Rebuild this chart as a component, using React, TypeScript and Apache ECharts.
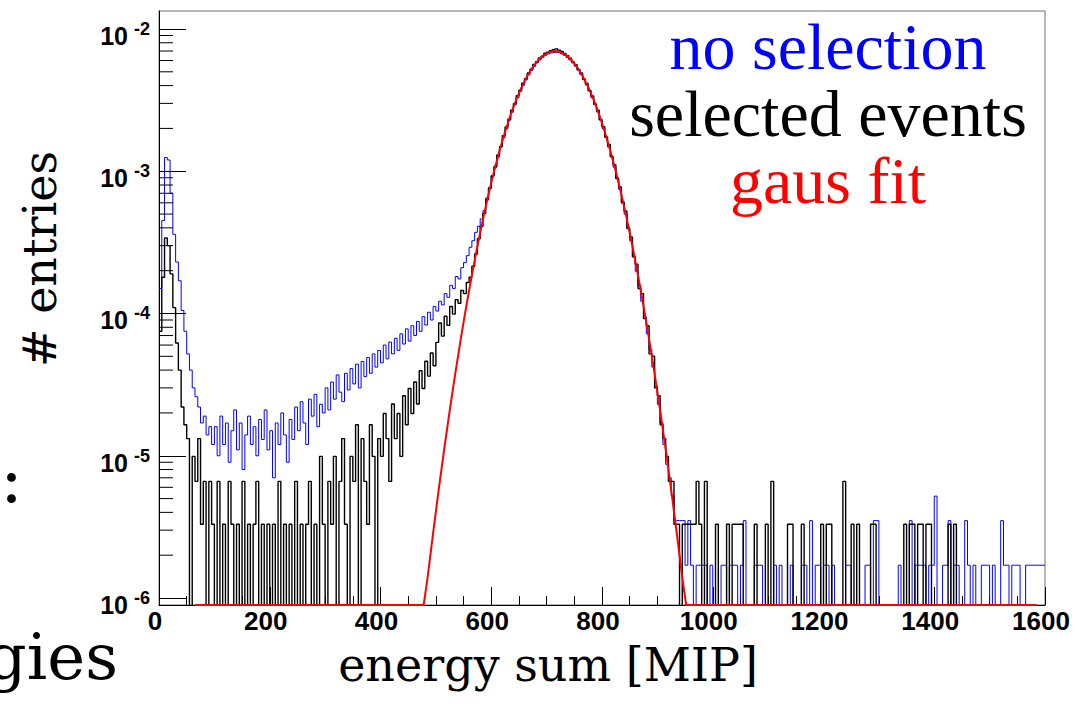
import React, { useEffect, useRef } from "react";
import * as echarts from "echarts";

// ---------- axes ----------
const X_MIN = 0;
const X_MAX = 1600;
const X_TICK_STEP = 200;
const Y_MIN = 8.93e-7;
const Y_MAX = 1.338e-2;
const Y_MAJOR_TICKS = [1e-6, 1e-5, 1e-4, 1e-3, 1e-2];
const Y_MINOR_MULTIPLIERS = [2, 3, 4, 5, 6, 7, 8, 9];

// ---------- histograms: 5 MIP bins, values in units of 1e-6 ----------
const BIN_WIDTH = 5;
const UNIT = 1e-6;

// "no selection" (blue)
const noSelection_0_300 = [
  150, 450, 1250, 1200, 700, 360, 230, 170, 105, 75,
  52, 40, 30, 26, 22, 17, 19, 14, 16, 12,
  16, 10, 19, 12, 17, 9, 15, 21, 11, 17,
  8, 14, 19, 12, 16, 10, 18, 13, 21, 11,
  15, 7, 17, 12, 20, 14, 9, 18, 13, 22,
  15, 24, 17, 12, 25, 19, 27, 16, 23, 20,
];
const noSelection_300_600 = [
  30, 21, 33, 25, 37, 28, 24, 38, 29, 41,
  32, 44, 30, 46, 36, 49, 38, 52, 42, 55,
  45, 60, 48, 63, 52, 67, 55, 72, 61, 78,
  64, 82, 70, 88, 75, 95, 83, 102, 90, 112,
  104, 122, 115, 138, 130, 158, 150, 182, 175, 210,
  228, 255, 292, 325, 372, 410, 462, 528, 650, 770,
];
const noSelection_600_900 = [
  930, 1090, 1260, 1480, 1720, 1990, 2280, 2600, 2930, 3280,
  3650, 4020, 4390, 4760, 5120, 5460, 5780, 6060, 6320, 6530,
  6680, 6790, 6850, 6850, 6790, 6680, 6530, 6320, 6060, 5780,
  5470, 5130, 4770, 4400, 4030, 3660, 3290, 2940, 2610, 2290,
  2000, 1730, 1480, 1260, 1070, 895, 745, 615, 500, 405,
  325, 255, 198, 158, 122, 95, 72, 56, 42, 31,
];
const noSelection_900_1200 = [
  23, 17, 12, 8.7, 7, 5.2, 3.5, 3.5, 3.5, 3.5,
  1.7, 3.5, 1.7, 0, 1.7, 1.7, 1.7, 1.7, 0, 1.7,
  0, 0, 0, 1.7, 1.7, 0, 1.7, 1.7, 1.7, 0,
  1.7, 3.5, 0, 0, 0, 1.7, 1.7, 1.7, 0, 0,
  0, 0, 1.7, 0, 1.7, 0, 0, 0, 1.7, 0,
  0, 0, 1.7, 1.7, 0, 3.5, 0, 1.7, 1.7, 0,
];
const noSelection_1200_1600 = [
  1.7, 1.7, 0, 1.7, 0, 0, 0, 0, 1.7, 1.7,
  0, 0, 0, 0, 0, 1.7, 1.7, 0, 3.5, 3.5,
  0, 0, 0, 0, 0, 0, 0, 1.7, 0, 0,
  0, 3.5, 0, 1.7, 1.7, 1.7, 1.7, 0, 1.7, 1.7,
  5.2, 0, 0, 1.7, 1.7, 3.5, 0, 1.7, 1.7, 0,
  0, 3.5, 1.7, 0, 1.7, 0, 0, 1.7, 1.7, 1.7,
  0, 1.7, 0, 0, 3.5, 1.7, 1.7, 0, 1.7, 1.7,
  1.7, 0, 0, 1.7, 1.7, 1.7, 1.7, 1.7, 1.7, 1.7,
];

// "selected events" (black)
const selected_0_300 = [
  75, 180, 340, 300, 190, 110, 62, 40, 22, 16.5,
  13.2, 0, 9.9, 6.6, 13.2, 3.3, 6.6, 0, 6.6, 3.3,
  0, 6.6, 0, 3.3, 0, 6.6, 3.3, 0, 3.3, 0,
  6.6, 0, 3.3, 0, 3.3, 6.6, 0, 3.3, 0, 3.3,
  0, 3.3, 0, 6.6, 0, 3.3, 0, 3.3, 0, 6.6,
  0, 3.3, 0, 3.3, 6.6, 0, 3.3, 0, 9.9, 3.3,
];
const selected_300_600 = [
  0, 6.6, 3.3, 9.9, 0, 6.6, 13.2, 3.3, 0, 9.9,
  6.6, 16.5, 0, 13.2, 6.6, 3.3, 16.5, 9.9, 0, 13.2,
  9.9, 19.8, 13.2, 6.6, 23.1, 13.2, 19.8, 9.9, 26.4, 16.5,
  29.7, 19.8, 33, 23.1, 39.6, 29.7, 46.2, 36.3, 52.8, 42.9,
  62.7, 85.8, 69.3, 95.7, 82.5, 112, 99, 125, 118, 145,
  138, 165, 180, 215, 262, 335, 410, 505, 630, 760,
];
const selected_600_900 = [
  925, 1070, 1300, 1490, 1780, 2050, 2320, 2690, 2980, 3390,
  3720, 4150, 4470, 4910, 5220, 5640, 5890, 6260, 6440, 6750,
  6880, 7050, 7150, 7250, 7100, 6950, 6720, 6500, 6230, 5870,
  5620, 5200, 4900, 4450, 4140, 3700, 3380, 2970, 2690, 2310,
  2060, 1740, 1540, 1270, 1110, 890, 775, 600, 525, 395,
  345, 250, 222, 150, 138, 92, 82, 52, 50, 30,
];
const selected_900_1200 = [
  26.4, 16.5, 13.2, 9.9, 6.6, 6.6, 3.3, 3.3, 0, 3.3,
  3.3, 3.3, 3.3, 3.3, 6.6, 3.3, 0, 6.6, 0, 0,
  0, 3.3, 0, 0, 0, 3.3, 0, 3.3, 3.3, 3.3,
  3.3, 0, 0, 0, 0, 3.3, 0, 0, 0, 3.3,
  0, 6.6, 0, 0, 0, 0, 0, 3.3, 3.3, 0,
  0, 0, 3.3, 0, 0, 0, 0, 0, 0, 3.3,
];
const selected_1200_1600 = [
  0, 3.3, 3.3, 0, 0, 0, 0, 6.6, 0, 0,
  3.3, 0, 3.3, 0, 0, 0, 0, 3.3, 3.3, 0,
  0, 0, 0, 0, 0, 0, 0, 0, 0, 3.3,
  0, 3.3, 3.3, 0, 3.3, 3.3, 0, 3.3, 3.3, 0,
  0, 0, 0, 0, 0, 3.3, 0, 3.3, 0, 0,
  0, 0, 0, 0, 0, 0, 0, 0, 0, 0,
  0, 0, 0, 0, 0, 0, 0, 0, 0, 0,
  0, 0, 0, 0, 0, 0, 0, 0, 0, 0,
];

// gaus fit (red), read at these energies; FIT_FLOOR = drawn on the frame bottom
const FIT_FLOOR = 0.893;
const gausFitX = [
  65, 478, 485, 495, 505, 515, 525, 535, 545, 555, 565, 575, 585, 595, 605, 615,
  625, 635, 645, 655, 665, 675, 685, 695, 705, 715, 725, 735, 745, 755, 765, 775,
  785, 795, 805, 815, 825, 835, 845, 855, 865, 875, 885, 895, 905, 915, 925, 935,
  945, 952, 1585,
];
const gausFitY = [
  FIT_FLOOR, FIT_FLOOR, 1.39, 2.86, 5.73, 11.1, 20.8, 37.8, 66.4, 113, 186, 297, 459, 687, 995, 1396,
  1897, 2495, 3177, 3917, 4677, 5408, 6053, 6561, 6887, 7000, 6887, 6561, 6053, 5408, 4677, 3917,
  3177, 2495, 1897, 1396, 995, 687, 459, 297, 186, 113, 66.4, 37.8, 20.8, 11.1, 5.73, 2.86,
  1.39, FIT_FLOOR, FIT_FLOOR,
];

// ---------- texts ----------
const legendLines = [
  { text: "no selection", color: "#0000ff" },
  { text: "selected events", color: "#000000" },
  { text: "gaus fit", color: "#ff0000" },
];
const X_TITLE = "energy sum [MIP]";
const Y_TITLE = "# entries";
const Y_LABEL_BASE = "10";

const EMPTY_BIN = 1e-9; // below the frame, clipped

const noSelection = [
  ...noSelection_0_300,
  ...noSelection_300_600,
  ...noSelection_600_900,
  ...noSelection_900_1200,
  ...noSelection_1200_1600,
];
const selected = [
  ...selected_0_300,
  ...selected_300_600,
  ...selected_600_900,
  ...selected_900_1200,
  ...selected_1200_1600,
];

function histogramPoints(values: number[]) {
  const pts: number[][] = values.map((v, i) => [
    i * BIN_WIDTH,
    v > 0 ? v * UNIT : EMPTY_BIN,
  ]);
  pts.push([X_MAX, pts[pts.length - 1][1]]);
  return pts;
}

const yMinorTicks = Y_MAJOR_TICKS.slice(0, 4).flatMap((d) =>
  Y_MINOR_MULTIPLIERS.map((k) => k * d)
);

export default function App() {
  const ref = useRef<HTMLDivElement>(null);

  useEffect(() => {
    if (!ref.current) return;
    const chart = echarts.init(ref.current, null, { renderer: "svg" });
    const axisFont = "Liberation Sans";
    const option: any = {
      animation: false,
      backgroundColor: "#ffffff",
      grid: {
        left: 159,
        right: 31,
        top: 11,
        bottom: 102,
        show: true,
        borderColor: "#707070",
        borderWidth: 1,
        backgroundColor: "transparent",
        containLabel: false,
        outerBoundsMode: "none",
      },
      xAxis: {
        type: "value",
        min: X_MIN,
        max: X_MAX,
        interval: X_TICK_STEP,
        axisLine: { show: true, lineStyle: { color: "#000", width: 1 } },
        axisTick: { show: true, inside: true, length: 18, lineStyle: { color: "#000", width: 1 } },
        minorTick: { show: true, splitNumber: 4, length: 9, lineStyle: { color: "#000", width: 1 } },
        splitLine: { show: false },
        minorSplitLine: { show: false },
        axisLabel: {
          formatter: (v: number) => String(v),
          fontFamily: axisFont,
          fontWeight: "bold",
          fontSize: 26,
          lineHeight: 22,
          color: "#000",
          margin: 5,
          padding: [0, 8, 0, 0],
        },
      },
      yAxis: [
        {
          type: "log",
          logBase: 10,
          min: Y_MIN,
          max: Y_MAX,
          position: "left",
          axisLine: { show: true, lineStyle: { color: "#000", width: 1 } },
          axisTick: {
            show: true,
            inside: true,
            length: 27,
            customValues: Y_MAJOR_TICKS,
            lineStyle: { color: "#000", width: 1 },
          },
          minorTick: { show: false },
          splitLine: { show: false },
          axisLabel: {
            customValues: Y_MAJOR_TICKS,
            formatter: () => Y_LABEL_BASE,
            fontFamily: axisFont,
            fontWeight: "bold",
            fontSize: 25,
            lineHeight: 14,
            verticalAlign: "top",
            color: "#000",
            margin: 31,
          },
        },
        {
          type: "log",
          logBase: 10,
          min: Y_MIN,
          max: Y_MAX,
          position: "left",
          offset: 0,
          axisLine: { show: false },
          axisTick: { show: false },
          minorTick: { show: false },
          splitLine: { show: false },
          axisLabel: {
            customValues: Y_MAJOR_TICKS,
            formatter: (v: number) => String(Math.round(Math.log10(v))),
            fontFamily: axisFont,
            fontWeight: "bold",
            fontSize: 18,
            lineHeight: 16,
            verticalAlign: "middle",
            color: "#000",
            margin: 9,
          },
        },
      ],
      series: [
        {
          name: "no selection",
          type: "line",
          step: "end",
          showSymbol: false,
          symbol: "none",
          data: histogramPoints(noSelection),
          lineStyle: { color: "#0000ff", width: 1 },
          itemStyle: { color: "#0000ff" },
          z: 2,
        },
        {
          name: "selected events",
          type: "line",
          step: "end",
          showSymbol: false,
          symbol: "none",
          data: histogramPoints(selected),
          lineStyle: { color: "#000000", width: 1.4 },
          itemStyle: { color: "#000000" },
          z: 3,
        },
        {
          name: "gaus fit",
          type: "line",
          showSymbol: false,
          symbol: "none",
          data: gausFitX.map((x, i) => [x, gausFitY[i] * UNIT]),
          lineStyle: { color: "#ff0000", width: 2 },
          itemStyle: { color: "#ff0000" },
          z: 4,
        },
        {
          name: "minor ticks",
          type: "custom",
          coordinateSystem: "cartesian2d",
          silent: true,
          clip: false,
          z: 5,
          data: yMinorTicks.map((v) => [X_MIN, v]),
          renderItem: (_p: any, api: any) => {
            const pt = api.coord([api.value(0), api.value(1)]);
            return {
              type: "line",
              shape: { x1: pt[0], y1: pt[1], x2: pt[0] + 14, y2: pt[1] },
              style: { stroke: "#000", lineWidth: 1 },
            };
          },
        },
      ],
      graphic: [
        ...legendLines.map((l, i) => ({
          type: "text",
          x: 828,
          y: 46 + i * 67,
          style: {
            text: l.text,
            fill: l.color,
            fontFamily: "Liberation Serif",
            fontSize: 66,
            lineHeight: 60,
            align: "center",
            verticalAlign: "middle",
          },
          z: 10,
        })),
        {
          type: "text",
          x: 548,
          y: 665,
          style: {
            text: X_TITLE,
            fill: "#000",
            fontFamily: "DejaVu Serif",
            fontSize: 46,
            lineHeight: 44,
            align: "center",
            verticalAlign: "middle",
          },
        },
        {
          type: "text",
          x: 40,
          y: 259,
          rotation: Math.PI / 2,
          style: {
            text: Y_TITLE,
            fill: "#000",
            fontFamily: "DejaVu Serif",
            fontSize: 46,
            align: "center",
            verticalAlign: "middle",
          },
        },
        {
          type: "text",
          x: 118,
          y: 657,
          style: {
            text: "gies",
            fill: "#000",
            fontFamily: "DejaVu Serif",
            fontSize: 64,
            lineHeight: 56,
            align: "right",
            verticalAlign: "middle",
          },
        },
        {
          type: "text",
          x: 0,
          y: 478,
          style: {
            text: ":",
            fill: "#000",
            fontFamily: "DejaVu Serif",
            fontSize: 68,
            align: "left",
            verticalAlign: "middle",
          },
        },
      ],
    };
    chart.setOption(option);
    return () => chart.dispose();
  }, []);

  return (
    <div
      ref={ref}
      style={{ position: "absolute", left: 0, top: 0, width: 1076, height: 707, background: "#fff" }}
    />
  );
}
